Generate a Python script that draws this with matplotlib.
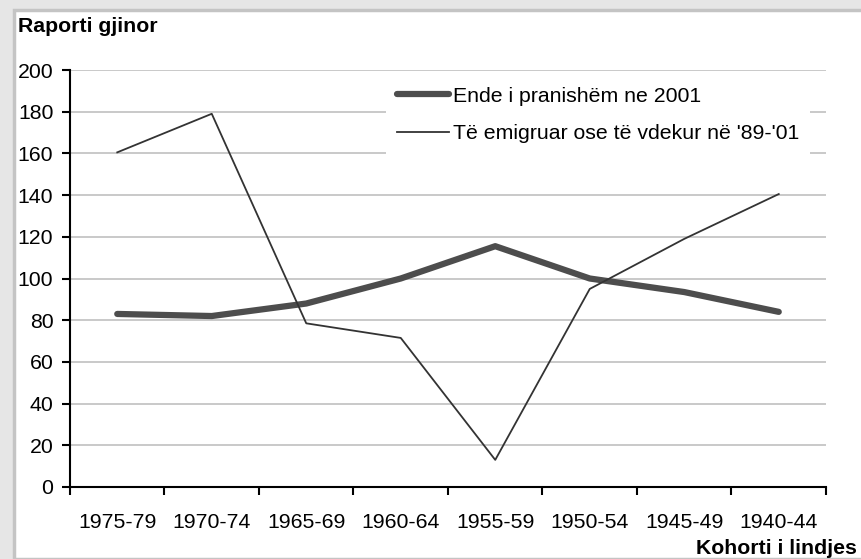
import matplotlib.pyplot as plt
from matplotlib.patches import Rectangle

plt.rcParams['font.family'] = ['Liberation Sans', 'DejaVu Sans']

cohorts = ["1975-79", "1970-74", "1965-69", "1960-64", "1955-59", "1950-54", "1945-49", "1940-44"]
present_2001 = [83, 82, 88, 100, 115.5, 100, 93.5, 84]
emigrated_dead = [160.5, 179, 78.5, 71.5, 13, 95, 119, 140.5]

fs = 15.3

fig = plt.figure(figsize=(8.62, 5.59), dpi=100, facecolor="#e6e6e6")

# white panel with a thin grey edge on top/left
fig.patches.append(Rectangle((14 / 862, 0), 1, 1 - 10 / 559, transform=fig.transFigure,
                             facecolor="white", edgecolor="#c4c4c4", linewidth=2.5, zorder=-5))

ax = fig.add_axes([70 / 862, 1 - 487 / 559, 756 / 862, 417 / 559])
x = list(range(len(cohorts)))

ax.plot(x, present_2001, color="#4d4d4d", linewidth=4.5, solid_capstyle="round",
        label="Ende i pranishëm ne 2001", zorder=3)
ax.plot(x, emigrated_dead, color="#333333", linewidth=1.3,
        label="Të emigruar ose të vdekur në '89-'01", zorder=3)

ax.set_xlim(-0.5, len(cohorts) - 0.5)
ax.set_ylim(0, 200)
ax.set_yticks(range(0, 201, 20))
ax.set_xticks([i - 0.5 for i in range(len(cohorts) + 1)], minor=False)
ax.set_xticklabels([])
ax.set_xticks(x, minor=True)
ax.set_xticklabels(cohorts, minor=True, fontsize=fs)
ax.tick_params(axis="x", which="minor", length=0, pad=19)
ax.tick_params(axis="x", which="major", length=6, width=1.5, direction="out")
ax.tick_params(axis="y", length=6, width=1.5, direction="out", labelsize=fs, pad=6)
ax.grid(axis="y", color="#c0c0c0", linewidth=1.2, zorder=0)

for side in ["top", "right"]:
    ax.spines[side].set_visible(False)
ax.spines["left"].set_linewidth(1.5)
ax.spines["bottom"].set_linewidth(1.5)
ax.set_facecolor("none")

leg = ax.legend(loc="upper left", bbox_to_anchor=(0.418, 0.985), frameon=True, fontsize=fs,
                handlelength=2.45, handletextpad=0.2, labelspacing=0.85, borderpad=0.5,
                borderaxespad=0)
leg.get_frame().set_edgecolor("none")
leg.get_frame().set_facecolor("white")
leg.get_frame().set_alpha(1)
leg.get_frame().set_boxstyle("square", pad=0)

fig.text(18 / 862, 1 - 27 / 559, "Raporti gjinor", fontsize=fs, fontweight="bold",
         va="center", ha="left")
fig.text(857 / 862, 1 - 548 / 559, "Kohorti i lindjes", fontsize=fs, fontweight="bold",
         va="center", ha="right")

fig.savefig("out.png", dpi=100, facecolor=fig.get_facecolor())
